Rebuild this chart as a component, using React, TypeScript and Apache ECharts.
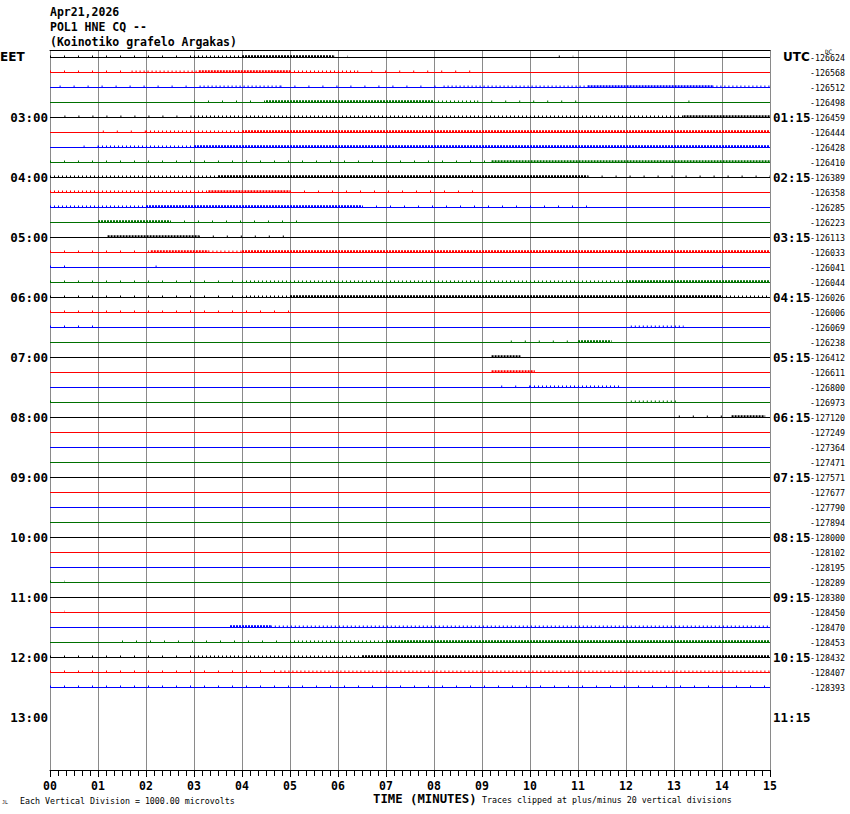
import React, { useEffect, useRef } from "react";
import * as echarts from "echarts";

// ---- data ----
const stationTitle = ["Apr21,2026", "POL1 HNE CQ --", "(Koinotiko grafelo Argakas)"];
const firstTraceMinute = 120; // 02:00 EET
const traceMinutes = 15;
const utcShiftMinutes = 105;
const traceColors = ["#000000", "#ff0000", "#0000ff", "#007000"];
const traceDC = [
  -126624, -126568, -126512, -126498, -126459, -126444, -126428, -126410,
  -126389, -126358, -126285, -126223, -126113, -126033, -126041, -126044,
  -126026, -126006, -126069, -126238, -126412, -126611, -126800, -126973,
  -127120, -127249, -127364, -127471, -127571, -127677, -127790, -127894,
  -128000, -128102, -128195, -128289, -128380, -128450, -128470, -128453,
  -128432, -128407, -128393,
];
// activity bands per trace: [startMinute, endMinute, level 1..3]
const traceActivity: number[][][] = [
  [[0, 3, 1], [3, 4, 2], [4, 5.9, 3], [5.9, 6.2, 1], [10.6, 10.9, 1]],
  [[0, 1.7, 1], [1.7, 3.1, 2], [3.1, 5.0, 3], [5.0, 6.4, 2], [6.4, 8.8, 1]],
  [[0.2, 3.2, 1], [3.2, 4.8, 2], [4.8, 8.2, 1], [8.2, 11.2, 2], [11.2, 13.8, 3], [13.8, 15, 2]],
  [[3, 4.5, 1], [4.5, 8.0, 3], [8.0, 8.9, 2], [8.9, 11, 1], [13.3, 13.5, 1]],
  [[0.3, 3, 1], [3, 13.2, 2], [13.2, 15, 3]],
  [[1.1, 2, 1], [2, 4, 2], [4, 15, 3]],
  [[0.7, 1, 1], [1, 3, 2], [3, 15, 3]],
  [[0, 9.2, 1], [9.2, 15, 3]],
  [[0, 3.5, 2], [3.5, 11.2, 3], [11.2, 15, 1]],
  [[0, 3.3, 2], [3.3, 5, 3], [5, 8.9, 1]],
  [[0, 2, 2], [2, 6.5, 3], [6.5, 11.3, 1]],
  [[1, 2.5, 3], [2.5, 5.2, 1]],
  [[1.2, 3.1, 3], [3.1, 5.1, 1]],
  [[0, 2.1, 1], [2.1, 3.3, 3], [3.3, 4, 2], [4, 15, 3]],
  [[0, 0.5, 1], [2.2, 2.3, 1], [14.0, 14.2, 1]],
  [[0, 4, 1], [4, 12, 2], [12, 15, 3]],
  [[0, 4, 1], [4, 5, 2], [5, 14, 3], [14, 15, 2]],
  [[0, 5, 1]],
  [[0, 1, 1], [12.1, 13.2, 2]],
  [[9.6, 11, 1], [11, 11.7, 3]],
  [[9.2, 9.8, 3]],
  [[9.2, 10.1, 3]],
  [[9.4, 10.0, 1], [10, 11.9, 2]],
  [[0, 0.2, 1], [12.1, 13.1, 2]],
  [[13.1, 14.2, 1], [14.2, 14.9, 3]],
  [], [], [], [], [], [], [], [], [], [],
  [[0, 0.3, 1]],
  [],
  [[0, 0.3, 1]],
  [[3.75, 4.6, 3], [4.6, 15, 2]],
  [[1.5, 5, 1], [5, 7, 2], [7, 15, 3]],
  [[0, 3, 1], [3, 6.5, 2], [6.5, 15, 3]],
  [[0, 4.8, 1], [4.8, 15, 2]],
  [[0, 15, 1]],
];
const minuteTicks = [0, 15];

const MONO = '"DejaVu Sans Mono", monospace';
const pad2 = (n: number) => (n < 10 ? "0" : "") + n;
const hhmm = (m: number) => pad2(Math.floor(m / 60)) + ":" + pad2(m % 60);

export default function App() {
  const ref = useRef<HTMLDivElement>(null);
  useEffect(() => {
    if (!ref.current) return;
    const chart = echarts.init(ref.current, null, { renderer: "svg" });

    const segs: number[][] = [];
    traceDC.forEach((_, i) => {
      const base = firstTraceMinute + i * traceMinutes;
      segs.push([minuteTicks[0], minuteTicks[1], base, 0, i % 4]);
      (traceActivity[i] || []).forEach((a) => segs.push([a[0], a[1], base, a[2], i % 4]));
    });

    const yMin = firstTraceMinute - 7.5;
    const yMax = yMin + 720;
    const lastTrace = firstTraceMinute + (traceDC.length - 1) * traceMinutes;

    const baseY = {
      type: "value",
      inverse: true,
      min: yMin,
      max: yMax,
      interval: 7.5,
      axisLine: { show: false },
      axisTick: { show: false },
      splitLine: { show: false },
    };

    const option: any = {
      animation: false,
      backgroundColor: "#ffffff",
      grid: { left: 50, right: 80, top: 50, bottom: 44, containLabel: false, outerBoundsMode: "none" },
      xAxis: [
        {
          type: "value",
          min: minuteTicks[0],
          max: minuteTicks[1],
          interval: 1,
          splitNumber: 15,
          axisLine: { show: true, lineStyle: { color: "#000", width: 1 } },
          axisTick: { show: true, length: 7, lineStyle: { color: "#000" } },
          minorTick: { show: true, splitNumber: 6, length: 6, lineStyle: { color: "#000" } },
          splitLine: { show: true, lineStyle: { color: "#8a8a8a", width: 1 } },
          axisLabel: {
            formatter: (v: number) => pad2(Math.round(v)),
            fontFamily: MONO,
            fontWeight: "bold",
            fontSize: 11.5,
            color: "#000",
            margin: 10,
          },
        },
        {
          type: "value",
          position: "top",
          min: minuteTicks[0],
          max: minuteTicks[1],
          axisLine: { show: true, lineStyle: { color: "#000", width: 1 } },
          axisTick: { show: false },
          axisLabel: { show: false },
          splitLine: { show: false },
        },
      ],
      yAxis: [
        {
          ...baseY,
          position: "left",
          axisLabel: {
            interval: 0,
            margin: 2,
            fontFamily: MONO,
            fontWeight: "bold",
            fontSize: 12.5,
            color: "#000",
            formatter: (v: number) => {
              const m = Math.round(v);
              return m % 60 === 0 && m > firstTraceMinute && m <= lastTrace + 60 ? hhmm(m) : "";
            },
          },
        },
        {
          ...baseY,
          position: "right",
          axisLabel: {
            interval: 0,
            margin: 3,
            align: "left",
            fontFamily: MONO,
            fontWeight: "bold",
            fontSize: 12.5,
            color: "#000",
            formatter: (v: number) => {
              const m = Math.round(v);
              return m % 60 === 0 && m > firstTraceMinute && m <= lastTrace + 60 ? hhmm(m - utcShiftMinutes) : "";
            },
          },
        },
        {
          ...baseY,
          position: "right",
          offset: 38,
          axisLabel: {
            interval: 0,
            margin: 2,
            align: "left",
            fontFamily: MONO,
            fontSize: 8.3,
            color: "#000",
            formatter: (v: number) => {
              const m = Math.round(v);
              const k = (m - firstTraceMinute) / traceMinutes;
              return Number.isInteger(k) && k >= 0 && k < traceDC.length ? String(traceDC[k]) : "";
            },
          },
        },
      ],
      series: [
        {
          type: "custom",
          coordinateSystem: "cartesian2d",
          xAxisIndex: 0,
          yAxisIndex: 0,
          clip: true,
          data: segs,
          renderItem: (params: any, api: any) => {
            const x0 = api.value(0);
            const x1 = api.value(1);
            const b = api.value(2);
            const lvl = api.value(3);
            const color = traceColors[api.value(4)];
            const p0 = api.coord([x0, b]);
            const p1 = api.coord([x1, b]);
            if (lvl === 0) {
              return {
                type: "line",
                shape: { x1: p0[0], y1: p0[1], x2: p1[0], y2: p1[1] },
                style: { stroke: color, lineWidth: 1 },
              };
            }
            const dash = lvl === 1 ? [1, 13] : lvl === 2 ? [1, 3] : [2, 1];
            return {
              type: "line",
              shape: { x1: p0[0], y1: p0[1] - 1, x2: p1[0], y2: p1[1] - 1 },
              style: { stroke: color, lineWidth: lvl === 3 ? 2.5 : 2, lineDash: dash },
            };
          },
        },
      ],
      graphic: [
        ...stationTitle.map((t, i) => ({
          type: "text",
          x: 50,
          y: 12 + i * 14.8,
          style: {
            text: t,
            font: "bold 11.5px " + MONO,
            fill: "#000",
            textAlign: "left",
            textVerticalAlign: "middle",
          },
        })),
        {
          type: "text",
          x: 0,
          y: 57,
          style: { text: "EET", font: 'bold 12px "DejaVu Sans"', fill: "#000", textAlign: "left", textVerticalAlign: "middle" },
        },
        {
          type: "text",
          x: 783,
          y: 57,
          style: { text: "UTC", font: 'bold 12px "DejaVu Sans"', fill: "#000", textAlign: "left", textVerticalAlign: "middle" },
        },
        {
          type: "text",
          x: 825,
          y: 51,
          style: { text: "DC", font: "6px " + MONO, fill: "#000", textAlign: "left", textVerticalAlign: "middle" },
        },
        {
          type: "text",
          x: 373,
          y: 799,
          style: { text: "TIME (MINUTES)", font: "bold 12.3px " + MONO, fill: "#000", textAlign: "left", textVerticalAlign: "middle" },
        },
        {
          type: "text",
          x: 20,
          y: 801,
          style: {
            text: "Each Vertical Division = 1000.00 microvolts",
            font: "8.3px " + MONO,
            fill: "#000",
            textAlign: "left",
            textVerticalAlign: "middle",
          },
        },
        {
          type: "text",
          x: 482,
          y: 800,
          style: {
            text: "Traces clipped at plus/minus 20 vertical divisions",
            font: "8.3px " + MONO,
            fill: "#000",
            textAlign: "left",
            textVerticalAlign: "middle",
          },
        },
        {
          type: "text",
          x: 2,
          y: 802,
          style: { text: "JL", font: "5px " + MONO, fill: "#000", textAlign: "left", textVerticalAlign: "middle" },
        },
      ],
    };

    chart.setOption(option);
    return () => chart.dispose();
  }, []);

  return (
    <div
      ref={ref}
      style={{ position: "absolute", left: 0, top: 0, width: 850, height: 814, background: "#fff" }}
    />
  );
}
